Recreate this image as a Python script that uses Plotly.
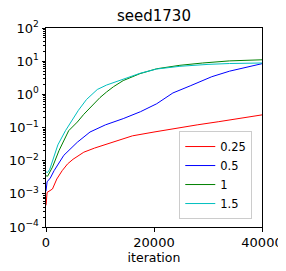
import plotly.graph_objects as go

title = "seed1730"
labels = ["0.25", "0.5", "1", "1.5"]
colors = ["#ff0000", "#0000ff", "#008000", "#00bfbf"]

x_025 = [0, 200, 1200, 2000, 3000, 4000, 5000, 7000, 9000, 10600, 13000, 16000, 20000, 24000, 28000, 32000, 36000, 40000]
y_025 = [4.5e-4, 1.1e-3, 1.4e-3, 2.8e-3, 5e-3, 8e-3, 0.011, 0.018, 0.024, 0.029, 0.04, 0.056, 0.073, 0.095, 0.12, 0.15, 0.19, 0.24]

x_05 = [0, 200, 800, 1500, 3300, 5800, 8150, 11000, 14300, 17500, 20500, 23500, 26700, 30700, 34000, 36800, 40000]
y_05 = [1.2e-3, 2.3e-3, 3e-3, 5e-3, 0.0145, 0.036, 0.073, 0.12, 0.185, 0.3, 0.52, 1.1, 1.8, 3.4, 5.0, 6.4, 8.4]

x_1 = [0, 300, 1200, 2400, 4200, 5800, 7000, 8800, 10000, 11200, 12500, 14300, 17400, 20500, 24800, 29000, 34000, 40000]
y_1 = [3.5e-3, 3.4e-3, 6.4e-3, 0.02, 0.08, 0.146, 0.25, 0.5, 0.8, 1.17, 1.7, 2.6, 4.2, 5.9, 7.5, 8.8, 10.2, 11.0]

x_15 = [0, 300, 700, 1500, 2200, 3600, 4600, 6000, 7500, 9500, 11200, 14300, 17400, 20500, 24800, 30000, 34000, 40000]
y_15 = [4.6e-3, 4.4e-3, 5.5e-3, 0.013, 0.03, 0.08, 0.15, 0.33, 0.7, 1.4, 1.9, 2.9, 4.3, 5.8, 7.0, 8.0, 8.5, 8.8]

xs = [x_025, x_05, x_1, x_15]
ys = [y_025, y_05, y_1, y_15]

x_ticks = [0, 20000, 40000]
x_ticktext = ["0", "20000", "40000"]
y_ticks = [1e-4, 1e-3, 1e-2, 1e-1, 1e0, 1e1, 1e2]
y_ticktext = ["10<sup>−4</sup>", "10<sup>−3</sup>", "10<sup>−2</sup>", "10<sup>−1</sup>",
              "10<sup>0</sup>", "10<sup>1</sup>", "10<sup>2</sup>"]

fig = go.Figure()
for xv, yv, name, c in zip(xs, ys, labels, colors):
    fig.add_trace(go.Scatter(x=xv, y=yv, mode="lines", name=name,
                             line=dict(color=c, width=1)))

fig.update_layout(
    width=278, height=263,
    margin=dict(l=38, r=24, t=20, b=44, autoexpand=False),
    paper_bgcolor="white", plot_bgcolor="white",
    font=dict(family="DejaVu Sans", size=13, color="black"),
    title=dict(text=title, x=0.525, xanchor="center", y=0.992, yanchor="top",
               font=dict(size=15)),
    showlegend=True,
    legend=dict(x=0.955, xanchor="right", y=0.04, yanchor="bottom",
                bgcolor="rgba(255,255,255,0.8)", bordercolor="#cccccc", borderwidth=1,
                font=dict(size=11.5), itemwidth=30),
)
fig.update_xaxes(range=[0, 40000], tickvals=x_ticks, ticktext=x_ticktext,
                 automargin=False,
                 showgrid=False, zeroline=False, showline=True, linecolor="black",
                 linewidth=1, mirror=True, ticks="outside", ticklen=3.5,
                 tickcolor="black", title=dict(text="iteration", standoff=2, font=dict(size=12.5)))
fig.update_yaxes(type="log", range=[-4, 2], tickvals=y_ticks, ticktext=y_ticktext,
                 automargin=False,
                 showgrid=False, zeroline=False, showline=True, linecolor="black",
                 linewidth=1, mirror=True, ticks="outside", ticklen=3.5,
                 tickcolor="black",
                 minor=dict(ticks="outside", ticklen=2, tickcolor="black", dtick="D1", showgrid=False))

fig.write_html("out.html")
